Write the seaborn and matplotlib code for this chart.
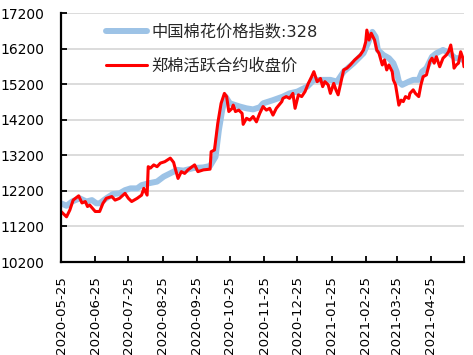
import matplotlib
matplotlib.use('Agg')
import matplotlib.pyplot as plt
import numpy as np
import pandas as pd
import seaborn as sns

# 中国棉花价格指数:328 (spot index)
index_dates = [
    '2020-05-25', '2020-05-30', '2020-06-04', '2020-06-11', '2020-06-17', '2020-06-22',
    '2020-06-26', '2020-06-29', '2020-07-05', '2020-07-11', '2020-07-17', '2020-07-22',
    '2020-07-27', '2020-08-02', '2020-08-06', '2020-08-12', '2020-08-20', '2020-08-26',
    '2020-09-04', '2020-09-07', '2020-09-13', '2020-09-22', '2020-10-01', '2020-10-07',
    '2020-10-12', '2020-10-15', '2020-10-18', '2020-10-21', '2020-10-25', '2020-10-30',
    '2020-11-03', '2020-11-09', '2020-11-15', '2020-11-21', '2020-11-24', '2020-12-03',
    '2020-12-12', '2020-12-18', '2020-12-25', '2021-01-03', '2021-01-09', '2021-01-18',
    '2021-01-24', '2021-01-30', '2021-02-05', '2021-02-14', '2021-02-23', '2021-02-27',
    '2021-03-03', '2021-03-06', '2021-03-08', '2021-03-13', '2021-03-18', '2021-03-22',
    '2021-03-25', '2021-03-27', '2021-03-30', '2021-04-05', '2021-04-09', '2021-04-14',
    '2021-04-17', '2021-04-21', '2021-04-26', '2021-04-30', '2021-05-06', '2021-05-12',
    '2021-05-17', '2021-05-21', '2021-05-24',
]
index_vals = [
    11850, 11780, 11900, 11990, 11900, 11940,
    11850, 11850, 11990, 12110, 12130, 12220,
    12270, 12270, 12360, 12410, 12460, 12600,
    12740, 12790, 12770, 12840, 12860, 12900,
    13160, 13910, 14470, 14850, 14660, 14610,
    14570, 14520, 14490, 14550, 14660, 14750,
    14850, 14940, 14990, 15130, 15320, 15320,
    15320, 15270, 15550, 15790, 16070, 16350,
    16670, 16530, 16160, 16020, 15930, 15790,
    15550, 15270, 15180, 15270, 15320, 15320,
    15550, 15650, 15970, 16070, 16160, 16070,
    15930, 15930, 15880,
]

# 郑棉活跃合约收盘价 (ZCE active contract close)
futures_dates = [
    '2020-05-25', '2020-05-30', '2020-06-02', '2020-06-05', '2020-06-10', '2020-06-13',
    '2020-06-16', '2020-06-18', '2020-06-20', '2020-06-25', '2020-06-29', '2020-07-02',
    '2020-07-05', '2020-07-10', '2020-07-13', '2020-07-17', '2020-07-22', '2020-07-25',
    '2020-07-28', '2020-08-02', '2020-08-06', '2020-08-08', '2020-08-11', '2020-08-12',
    '2020-08-14', '2020-08-17', '2020-08-20', '2020-08-23', '2020-08-27', '2020-09-01',
    '2020-09-04', '2020-09-05', '2020-09-08', '2020-09-11', '2020-09-14', '2020-09-17',
    '2020-09-20', '2020-09-23', '2020-09-26', '2020-10-01', '2020-10-07', '2020-10-08',
    '2020-10-11', '2020-10-14', '2020-10-17', '2020-10-20', '2020-10-22', '2020-10-24',
    '2020-10-27', '2020-10-28', '2020-10-30', '2020-11-02', '2020-11-05', '2020-11-06',
    '2020-11-09', '2020-11-12', '2020-11-15', '2020-11-18', '2020-11-21', '2020-11-24',
    '2020-11-27', '2020-11-30', '2020-12-03', '2020-12-06', '2020-12-11', '2020-12-12',
    '2020-12-15', '2020-12-18', '2020-12-21', '2020-12-23', '2020-12-26', '2020-12-29',
    '2021-01-01', '2021-01-04', '2021-01-07', '2021-01-09', '2021-01-12', '2021-01-15',
    '2021-01-17', '2021-01-19', '2021-01-22', '2021-01-24', '2021-01-27', '2021-01-29',
    '2021-01-31', '2021-02-02', '2021-02-05', '2021-02-08', '2021-02-11', '2021-02-15',
    '2021-02-20', '2021-02-23', '2021-02-25', '2021-02-26', '2021-02-28', '2021-03-02',
    '2021-03-05', '2021-03-07', '2021-03-09', '2021-03-12', '2021-03-14', '2021-03-16',
    '2021-03-18', '2021-03-21', '2021-03-22', '2021-03-24', '2021-03-27', '2021-03-29',
    '2021-03-31', '2021-04-02', '2021-04-05', '2021-04-06', '2021-04-09', '2021-04-11',
    '2021-04-14', '2021-04-16', '2021-04-18', '2021-04-21', '2021-04-24', '2021-04-26',
    '2021-04-28', '2021-04-30', '2021-05-03', '2021-05-06', '2021-05-09', '2021-05-11',
    '2021-05-13', '2021-05-15', '2021-05-16', '2021-05-18', '2021-05-20', '2021-05-22',
    '2021-05-24', '2021-05-25',
]
futures_vals = [
    11620, 11470, 11660, 11940, 12060, 11860,
    11900, 11760, 11800, 11620, 11620, 11850,
    11990, 12040, 11940, 11990, 12130, 11990,
    11900, 11990, 12080, 12270, 12080, 12880,
    12840, 12930, 12880, 12980, 13020, 13120,
    13000, 12880, 12550, 12740, 12690, 12790,
    12860, 12930, 12740, 12790, 12810, 13300,
    13350, 14100, 14660, 14940, 14850, 14430,
    14520, 14610, 14430, 14470, 14380, 14070,
    14240, 14190, 14290, 14140, 14380, 14570,
    14470, 14520, 14330, 14520, 14710, 14800,
    14850, 14800, 14940, 14520, 14900, 14850,
    14990, 15220, 15410, 15550, 15270, 15360,
    15130, 15270, 15180, 14940, 15220, 15040,
    14900, 15180, 15600, 15650, 15740, 15880,
    16020, 16160, 16390, 16720, 16440, 16630,
    16440, 16160, 16070, 15740, 15880, 15600,
    15740, 15550, 15320, 15180, 14610, 14750,
    14710, 14850, 14800, 14940, 15040, 14940,
    14850, 15180, 15410, 15460, 15830, 15930,
    15790, 15970, 15690, 15930, 16020, 16110,
    16300, 15930, 15650, 15740, 15790, 16110,
    15930, 15690,
]

# x ticks every month on the 25th; the last one (axis end) has no label
tick_labels = [
    '2020-05-25', '2020-06-25', '2020-07-25', '2020-08-25', '2020-09-25', '2020-10-25',
    '2020-11-25', '2020-12-25', '2021-01-25', '2021-02-25', '2021-03-25', '2021-04-25',
    '2021-05-25',
]
yticks = [10200, 11200, 12200, 13200, 14200, 15200, 16200, 17200]

sns.set_style('white')
plt.rcParams['font.family'] = ['DejaVu Sans', 'Noto Sans CJK SC']

index_df = pd.DataFrame({'date': pd.to_datetime(index_dates), 'value': index_vals})
futures_df = pd.DataFrame({'date': pd.to_datetime(futures_dates), 'value': futures_vals})
tick_dates = pd.to_datetime(tick_labels)

fig = plt.figure(figsize=(4.73, 3.55), dpi=100)
ax = fig.add_axes([61 / 473, 1 - 262 / 355, 403 / 473, 249 / 355])

sns.lineplot(data=index_df, x='date', y='value', ax=ax, color='#9dc3e6',
             linewidth=4.3, label='中国棉花价格指数:328')
sns.lineplot(data=futures_df, x='date', y='value', ax=ax, color='#ff0000',
             linewidth=2.2, label='郑棉活跃合约收盘价')

ax.set_ylim(10200, 17200)
ax.set_yticks(yticks)
ax.set_xlim(tick_dates[0], tick_dates[-1])
ax.set_xticks(tick_dates)
ax.set_xticklabels(tick_labels[:-1] + [''], rotation=90, fontsize=9.6)
ax.set_xlabel('')
ax.set_ylabel('')

ax.yaxis.grid(True, color='#d9d9d9', linewidth=1.3)
ax.xaxis.grid(False)
ax.set_axisbelow(True)
for side in ['top', 'right']:
    ax.spines[side].set_visible(False)
for side in ['left', 'bottom']:
    ax.spines[side].set_color('black')
    ax.spines[side].set_linewidth(1.6)
ax.tick_params(axis='both', direction='in', length=4, width=1.3, colors='black')
ax.tick_params(axis='y', pad=12, labelsize=10, left=True)
ax.tick_params(axis='x', pad=10, bottom=True)

ax.legend(loc='upper left', bbox_to_anchor=(0.112, 0.957), frameon=False,
          fontsize=11.7, handlelength=2.5, handletextpad=0.3, labelspacing=1.15,
          borderpad=0, borderaxespad=0)

fig.savefig('out.png', dpi=100)
